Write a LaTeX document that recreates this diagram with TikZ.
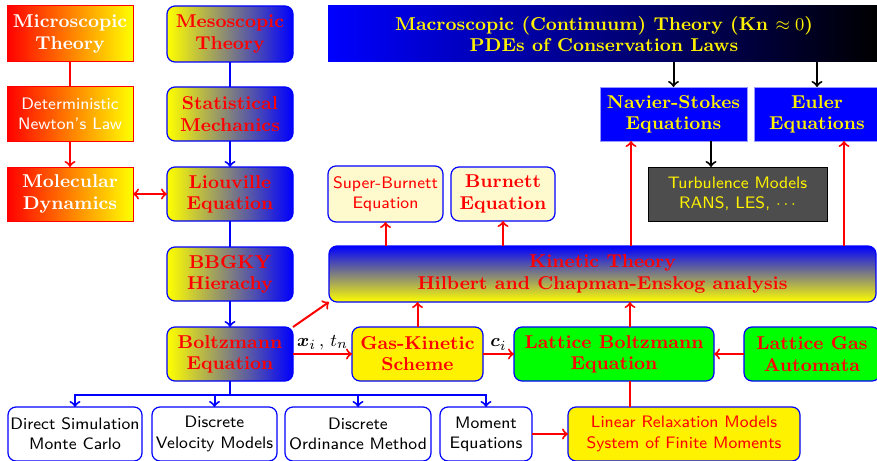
\documentclass[tikz,border=0pt]{standalone}
\usepackage{fontspec}
\usepackage{bm}
\definecolor{lemon}{RGB}{255,250,205}
\definecolor{turbgray}{RGB}{77,77,77}
\begin{document}
\begin{tikzpicture}[x=0.5pt,y=-0.5pt,
  every node/.style={align=center, inner sep=1pt, outer sep=0pt},
  wh/.style 2 args={minimum width=#1*0.5pt, minimum height=#2*0.5pt},
  serif/.style={font=\fontsize{9.3}{10.6}\selectfont\bfseries},
  sans/.style={font=\fontsize{8.3}{10.1}\selectfont\sffamily},
  microbox/.style={serif, draw=red, line width=0.5pt, left color=red, right color=yellow, text=white},
  mesobox/.style={serif, draw=blue, line width=0.6pt, rounded corners=4pt, left color=yellow, right color=blue, text=red},
  macrobox/.style={serif, fill=blue, draw=blue!40, line width=0.4pt, text=yellow},
  rbox/.style={draw=blue, line width=0.6pt, rounded corners=4pt, text=red},
  wbox/.style={sans, draw=blue, line width=0.6pt, rounded corners=4pt, fill=white, text=black},
  redl/.style={draw=red, line width=1pt},
  bluel/.style={draw=blue, line width=1pt},
  blackl/.style={draw=black, line width=1pt},
  ]
\useasboundingbox (0,0) rectangle (877,460);

% microscopic column
\node[microbox, wh={126}{56}] (micro) at (70,34) {Microscopic\\Theory};
\node[microbox, sans, wh={126}{54}] (det) at (70,114) {Deterministic\\Newton's Law};
\node[microbox, wh={126}{54}] (mol) at (70,194) {Molecular\\Dynamics};

% mesoscopic column
\node[mesobox, wh={126}{56}] (meso) at (230,34) {Mesoscopic\\Theory};
\node[mesobox, wh={126}{54}] (stat) at (230,114) {Statistical\\Mechanics};
\node[mesobox, wh={126}{54}] (liou) at (230,194) {Liouville\\Equation};
\node[mesobox, wh={126}{54}] (bbgky) at (230,274) {BBGKY\\Hierachy};
\node[mesobox, wh={126}{54}] (boltz) at (230,354) {Boltzmann\\Equation};

% macroscopic
\node[serif, left color=blue, right color=black, text=yellow, wh={552}{56}] (macro) at (604,34)
  {Macroscopic (Continuum) Theory (Kn $\approx 0$)\\PDEs of Conservation Laws};
\node[macrobox, wh={147}{54}] (ns) at (673.5,114) {Navier-Stokes\\Equations};
\node[macrobox, wh={126}{54}] (euler) at (817,114) {Euler\\Equations};
\node[sans, fill=turbgray, draw=black, line width=0.5pt, text=yellow, wh={179}{54}] (turb) at (737.5,194)
  {Turbulence Models\\RANS, LES, $\cdots$};

% Burnett
\node[rbox, sans, fill=lemon, wh={115}{56}] (sb) at (385.5,194) {Super-Burnett\\Equation};
\node[rbox, serif, fill=lemon, wh={104}{54}] (burnett) at (503,194) {Burnett\\Equation};

% kinetic theory
\node[rbox, serif, top color=blue, bottom color=yellow, wh={547}{56}] (kinetic) at (602.5,274)
  {Kinetic Theory\\Hilbert and Chapman-Enskog analysis};
\node[rbox, serif, fill=yellow, wh={131}{54}] (gks) at (417.5,354) {Gas-Kinetic\\Scheme};
\node[rbox, serif, fill=green, wh={200}{54}] (lbe) at (614,354) {Lattice Boltzmann\\Equation};
\node[rbox, serif, fill=green, wh={136}{54}] (lga) at (812,354) {Lattice Gas\\Automata};

% bottom row
\node[wbox, wh={134}{54}] (dsmc) at (75,434) {Direct Simulation\\Monte Carlo};
\node[wbox, wh={125}{54}] (dvm) at (214.5,434) {Discrete\\Velocity Models};
\node[wbox, wh={146}{54}] (dom) at (358,434) {Discrete\\Ordinance Method};
\node[wbox, wh={92}{54}] (me) at (486,434) {Moment\\Equations};
\node[rbox, sans, fill=yellow, wh={232}{54}] (lrm) at (684,434) {Linear Relaxation Models\\System of Finite Moments};

% helper coordinates
\coordinate (bus) at (230,395);
\coordinate (xt) at (711,0);
\coordinate (xns) at (631,0);
\coordinate (xeu) at (844,0);
\coordinate (xlb) at (630,0);

% microscopic connectors
\draw[redl] (micro) -- (det);
\draw[redl,->] (det) -- (mol);
\draw[redl,<->] (mol) -- (liou);

% mesoscopic connectors
\draw[bluel] (meso) -- (stat);
\draw[bluel,->] (stat) -- (liou);
\draw[bluel] (liou) -- (bbgky);
\draw[bluel,->] (bbgky) -- (boltz);
\draw[bluel] (boltz) -- (bus);
\draw[bluel,->] (bus) -| (dsmc);
\draw[bluel,->] (bus) -| (dvm);
\draw[bluel,->] (bus) -| (dom);
\draw[bluel,->] (bus) -| (me);

% macroscopic connectors
\draw[blackl,->] (macro.south -| ns) -- (ns);
\draw[blackl,->] (macro.south -| euler) -- (euler);
\draw[blackl,->] (ns.south -| xt) -- (turb.north -| xt);

% kinetic connectors
\draw[redl,->] (kinetic.north -| sb) -- (sb);
\draw[redl,->] (kinetic.north -| burnett) -- (burnett);
\draw[redl,->] (kinetic.north -| xns) -- (ns.south -| xns);
\draw[redl,->] (kinetic.north -| xeu) -- (euler.south -| xeu);
\draw[redl,->] (boltz.north east) -- (kinetic.south west);
\draw[redl,->] (boltz) -- node[above, font=\fontsize{9.3}{10.5}\selectfont, yshift=1pt] {$\bm{x}_i\,,\,t_n$} (gks);
\draw[redl,->] (gks) -- node[above, font=\fontsize{9.3}{10.5}\selectfont, yshift=1pt] {$\bm{c}_i$} (lbe);
\draw[redl,->] (gks) -- (kinetic.south -| gks);
\draw[redl,->] (lbe.north -| xlb) -- (kinetic.south -| xlb);
\draw[redl,->] (lga) -- (lbe);
\draw[redl] (lbe.south -| xlb) -- (lrm.north -| xlb);
\draw[redl,->] (me) -- (lrm);
\end{tikzpicture}
\end{document}
